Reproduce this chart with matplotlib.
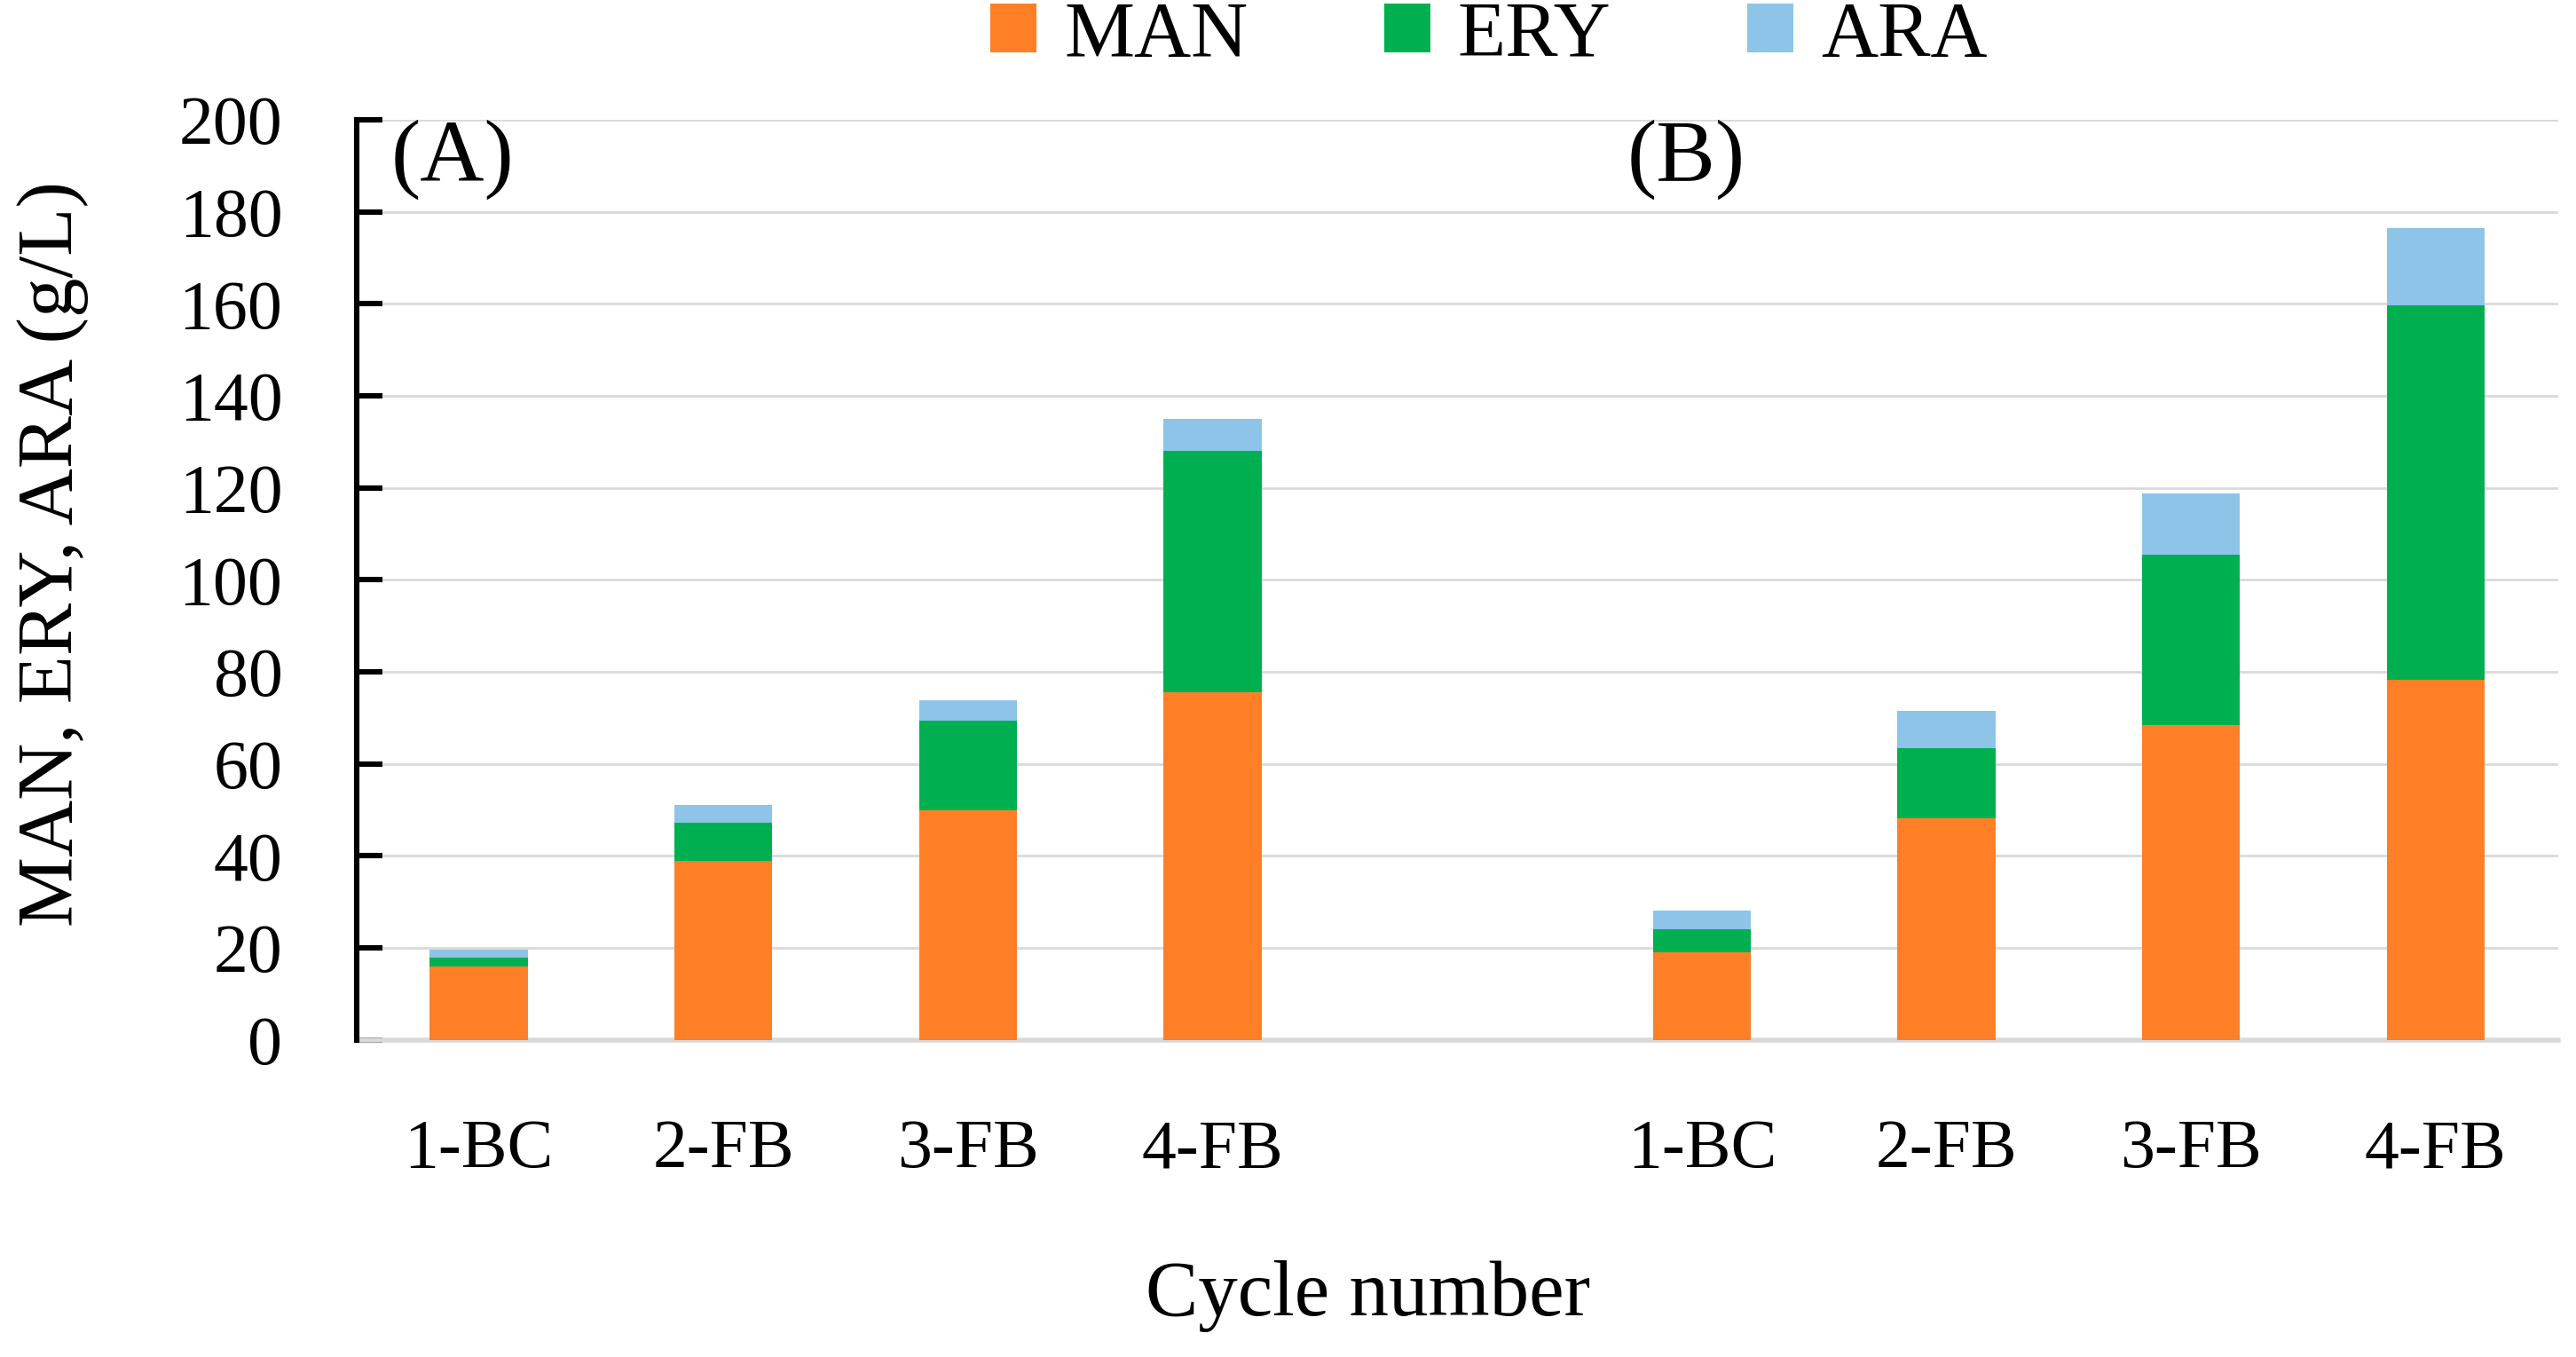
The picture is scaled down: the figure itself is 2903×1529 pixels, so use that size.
import numpy as np
import matplotlib
matplotlib.use('Agg')
import matplotlib.pyplot as plt

cycles = ['1-BC', '2-FB', '3-FB', '4-FB']
panels = ['(A)', '(B)']

# g/L
man_a = [16.0, 39.0, 50.0, 75.5]
ery_a = [1.8, 8.2, 19.3, 52.6]
ara_a = [1.8, 3.9, 4.6, 6.8]

man_b = [19.1, 48.1, 68.5, 78.2]
ery_b = [5.0, 15.4, 37.0, 81.5]
ara_b = [4.0, 8.1, 13.3, 16.8]

colors = {'MAN': '#FF7F27', 'ERY': '#00B050', 'ARA': '#8DC4E8'}

plt.rcParams['font.family'] = ['Liberation Serif', 'DejaVu Serif']

# one empty category between the two panels
labels = cycles + [''] + cycles
man = np.array(man_a + [0] + man_b)
ery = np.array(ery_a + [0] + ery_b)
ara = np.array(ara_a + [0] + ara_b)
x = np.arange(len(labels))

fig = plt.figure(figsize=(14.515, 7.645), dpi=200)
ax = fig.add_axes([0.1384, 0.2337, 0.8546, 0.678])

w = 0.40
ax.bar(x, man, w, color=colors['MAN'], label='MAN', zorder=3)
ax.bar(x, ery, w, bottom=man, color=colors['ERY'], label='ERY', zorder=3)
ax.bar(x, ara, w, bottom=man + ery, color=colors['ARA'], label='ARA', zorder=3)

ax.set_xlim(-0.5, len(labels) - 0.5)
ax.set_ylim(0, 200)
ax.set_yticks(np.arange(0, 201, 20))
ax.set_xticks(x)
ax.set_xticklabels(labels)
ax.yaxis.grid(True, color='#d9d9d9', linewidth=1.0, zorder=0)
ax.set_axisbelow(True)

for s in ['top', 'right']:
    ax.spines[s].set_visible(False)
ax.spines['left'].set_color('black')
ax.spines['left'].set_linewidth(2.2)
ax.spines['left'].set_zorder(4)
ax.spines['bottom'].set_color('#d9d9d9')
ax.spines['bottom'].set_linewidth(2)

ax.tick_params(axis='y', direction='in', length=10.4, width=2.2, pad=30, labelsize=28)
ax.tick_params(axis='x', length=0, pad=32, labelsize=28)

ax.text(0.0157, 0.957, panels[0], transform=ax.transAxes, fontsize=36, va='center', ha='left')
ax.text(0.577, 0.957, panels[1], transform=ax.transAxes, fontsize=36, va='center', ha='left')

fig.text(0.531, 0.045, 'Cycle number', fontsize=32, ha='center', va='center')
fig.text(0.0204, 0.592, 'MAN, ERY, ARA (g/L)', fontsize=32, ha='center', va='center', rotation=90)

fig.legend(loc='center', bbox_to_anchor=(0.578, 0.973), ncol=3, frameon=False, fontsize=32,
           handlelength=0.58, handleheight=0.58, handletextpad=0.35, columnspacing=1.73)

fig.savefig('out.png', dpi=200)
